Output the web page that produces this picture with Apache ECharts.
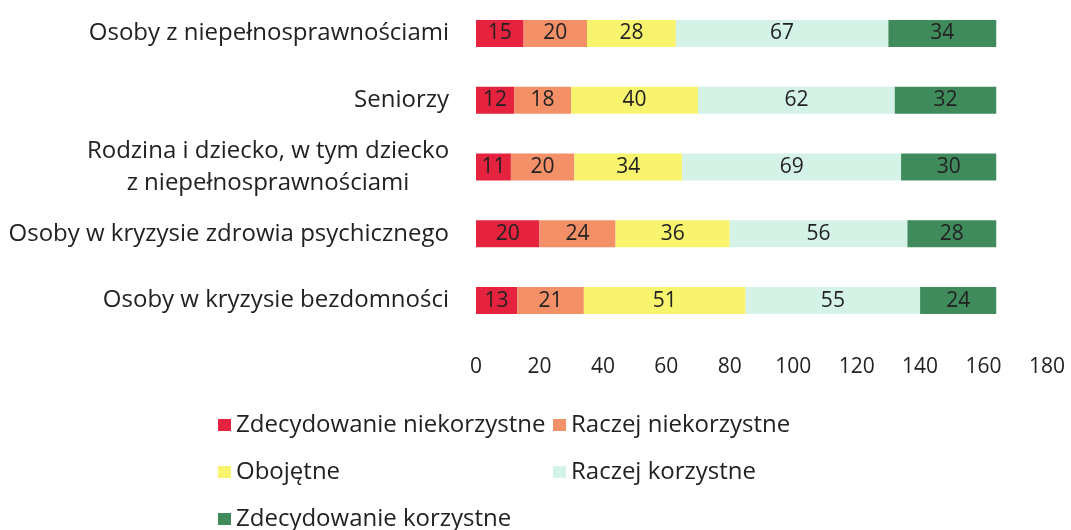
<!DOCTYPE html>
<html><head><meta charset="utf-8">
<script src="https://cdn.jsdelivr.net/npm/echarts@6/dist/echarts.min.js"></script>
<style>html,body{margin:0;padding:0;background:#fff}#c{width:1071px;height:530px}</style>
</head><body><div id="c"></div>
<script>
const categories = [
  'Osoby z niepełnosprawnościami',
  'Seniorzy',
  'Rodzina i dziecko, w tym dziecko\nz niepełnosprawnościami',
  'Osoby w kryzysie zdrowia psychicznego',
  'Osoby w kryzysie bezdomności'
];
const seriesNames = ['Zdecydowanie niekorzystne','Raczej niekorzystne','Obojętne','Raczej korzystne','Zdecydowanie korzystne'];
const zdecNiekorzystne = [15, 12, 11, 20, 13];
const raczejNiekorzystne = [20, 18, 20, 24, 21];
const obojetne = [28, 40, 34, 36, 51];
const raczejKorzystne = [67, 62, 69, 56, 55];
const zdecKorzystne = [34, 32, 30, 28, 24];
const colors = ['#e5233f','#f39068','#f8f46e','#d4f2e6','#3f8b5c'];
const values = [zdecNiekorzystne, raczejNiekorzystne, obojetne, raczejKorzystne, zdecKorzystne];

const font = 'Open Sans';
const legendPos = [[213,408],[548,408],[213,455],[548,455],[213,502]];
const chart = echarts.init(document.getElementById('c'), null, {renderer:'canvas'});
chart.setOption({
  animation:false,
  textStyle:{fontFamily:font},
  grid:{left:476, right:24, top:-4, height:338},
  xAxis:{type:'value', min:0, max:180, interval:20,
    axisLine:{show:false}, axisTick:{show:false}, splitLine:{show:false},
    axisLabel:{fontSize:21, color:'#222', margin:23, fontFamily:font}},
  yAxis:{type:'category', data:categories, inverse:true,
    axisLine:{show:false}, axisTick:{show:false},
    axisLabel:{fontSize:24, color:'#222', margin:27, align:'right', lineHeight:32, fontFamily:font,
      formatter: v => v.indexOf('\n') >= 0 ? v.split('\n').map(l => '{c|' + l + '}').join('\n') : v,
      rich:{c:{width:362, align:'center', fontSize:24, lineHeight:32, color:'#222', fontFamily:font}}}},
  legend: seriesNames.map((n,i)=>({data:[n], left:legendPos[i][0], top:legendPos[i][1],
    itemWidth:13, itemHeight:12, itemGap:0, icon:'rect',
    textStyle:{fontSize:24, color:'#222', fontFamily:font, padding:[0,0,0,0]}})),
  series: seriesNames.map((n,i)=>({
    name:n, type:'bar', stack:'total', barWidth:27, data:values[i],
    itemStyle:{color:colors[i]},
    label:{show:true, position:'inside', fontSize:21, color:'#222', fontFamily:font}
  }))
});
</script></body></html>
